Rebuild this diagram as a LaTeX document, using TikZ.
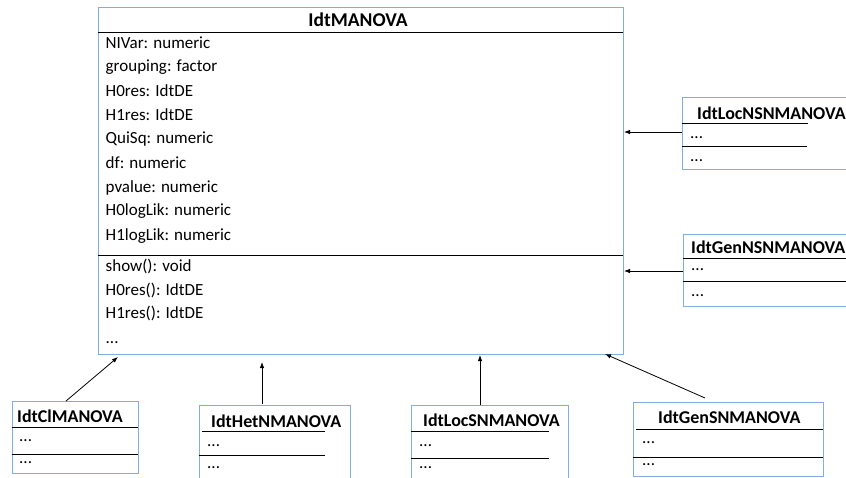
\documentclass[tikz,border=0pt]{standalone}
\usepackage{fontspec}
\setmainfont{Carlito}
\usetikzlibrary{arrows.meta}
\definecolor{bx}{RGB}{128,174,224}
\begin{document}
\begin{tikzpicture}[x=1pt,y=-1pt,
  box/.style={draw=bx,line width=1pt,anchor=north west,inner sep=0pt,outer sep=0pt},
  ttl/.style={font=\fontsize{18}{21}\selectfont\bfseries,inner sep=0pt},
  txt/.style={font=\fontsize{17}{20}\selectfont,anchor=west,inner sep=0pt},
  dots/.style={font=\fontsize{17}{20}\selectfont,anchor=base west,inner sep=0pt},
  sep/.style={line width=0.9pt,black},
  arr/.style={-{Latex[length=6pt,width=4.5pt]},line width=0.8pt,black}]
\useasboundingbox (0,0) rectangle (846,477);
\clip (0,0) rectangle (846,477);

% main class
\node[box,minimum width=525pt,minimum height=347pt] (main) at (98,7) {};
\node[ttl,font=\fontsize{19.5}{22}\selectfont\bfseries] (mt) at (358,20) {IdtMANOVA};
\draw[sep] (98,32) -- (623,32);
\node[txt] (a1) at (105.5,43) {NIVar: numeric};
\node[txt] (a2) at (105.5,67) {grouping: factor};
\node[txt] (a3) at (105.5,91) {H0res: IdtDE};
\node[txt] (a4) at (105.5,115) {H1res: IdtDE};
\node[txt] (a5) at (105.5,139) {QuiSq: numeric};
\node[txt] (a6) at (105.5,163) {df: numeric};
\node[txt] (a7) at (105.5,187.5) {pvalue: numeric};
\node[txt] (a8) at (105.5,211.5) {H0logLik: numeric};
\node[txt] (a9) at (105.5,236) {H1logLik: numeric};
\draw[sep] (98,255) -- (623,255);
\node[txt] (m1) at (105.5,266) {show(): void};
\node[txt] (m2) at (105.5,290) {H0res(): IdtDE};
\node[txt] (m3) at (105.5,313) {H1res(): IdtDE};
\node[dots] (m4) at (105.5,343) {...};

% right classes
\node[box,minimum width=220pt,minimum height=72pt] (lnsn) at (682,97) {};
\node[ttl,anchor=west] (lnsnt) at (697,113) {IdtLocNSNMANOVA};
\draw[sep] (682,123) -- (808,123);
\node[dots] (lnsn1) at (690,138) {...};
\draw[sep] (682,146) -- (807,146);
\node[dots] (lnsn2) at (690,161) {...};

\node[box,minimum width=220pt,minimum height=72pt] (gnsn) at (683,234) {};
\node[ttl,anchor=west] (gnsnt) at (691,247) {IdtGenNSNMANOVA};
\draw[sep] (683,258) -- (846,258);
\node[dots] (gnsn1) at (691,270) {...};
\draw[sep] (683,281) -- (846,281);
\node[dots] (gnsn2) at (691,296) {...};

% bottom classes
\node[box,minimum width=126pt,minimum height=72pt] (cl) at (12,401) {};
\node[ttl,anchor=west] (clt) at (17,416) {IdtClMANOVA};
\draw[sep] (12,427) -- (138,427);
\node[dots] (cl1) at (19,441) {...};
\draw[sep] (12,454) -- (138,454);
\node[dots] (cl2) at (19,463) {...};

\node[box,minimum width=151pt,minimum height=90pt] (het) at (199,405) {};
\node[ttl,anchor=west] (hett) at (211,421) {IdtHetNMANOVA};
\draw[sep] (202,431) -- (325,431);
\node[dots] (het1) at (207,446) {...};
\draw[sep] (199,455) -- (325,455);
\node[dots] (het2) at (207,468) {...};

\node[box,minimum width=157pt,minimum height=90pt] (lsn) at (411,405) {};
\node[ttl,anchor=west] (lsnt) at (423,420) {IdtLocSNMANOVA};
\draw[sep] (411,431) -- (549,431);
\node[dots] (lsn1) at (419,446) {...};
\draw[sep] (411,458) -- (549,458);
\node[dots] (lsn2) at (419,468) {...};

\node[box,minimum width=190pt,minimum height=74pt] (gsn) at (633,402) {};
\node[ttl,anchor=west] (gsnt) at (658,417) {IdtGenSNMANOVA};
\draw[sep] (636,429) -- (823,429);
\node[dots] (gsn1) at (642,443) {...};
\draw[sep] (633,457) -- (823,457);
\node[dots] (gsn2) at (642,465) {...};

% generalisation arrows
\draw[arr] ([xshift=54pt]cl.north west) -- ([xshift=20pt,yshift=-3pt]main.south west);
\draw[arr] ([xshift=63pt,yshift=1pt]het.north west) -- ([xshift=164pt,yshift=-8pt]main.south west);
\draw[arr] ([xshift=69pt]lsn.north west) -- ([xshift=382pt,yshift=-1pt]main.south west);
\draw[arr] ([xshift=72pt,yshift=4pt]gsn.north west) -- ([xshift=-18pt]main.south east);
\draw[arr] ([yshift=-35pt]lnsn.north west) -- ([xshift=1pt,yshift=-125pt]main.north east);
\draw[arr] ([yshift=-37pt]gnsn.north west) -- ([xshift=1pt,yshift=-264pt]main.north east);
\end{tikzpicture}
\end{document}
